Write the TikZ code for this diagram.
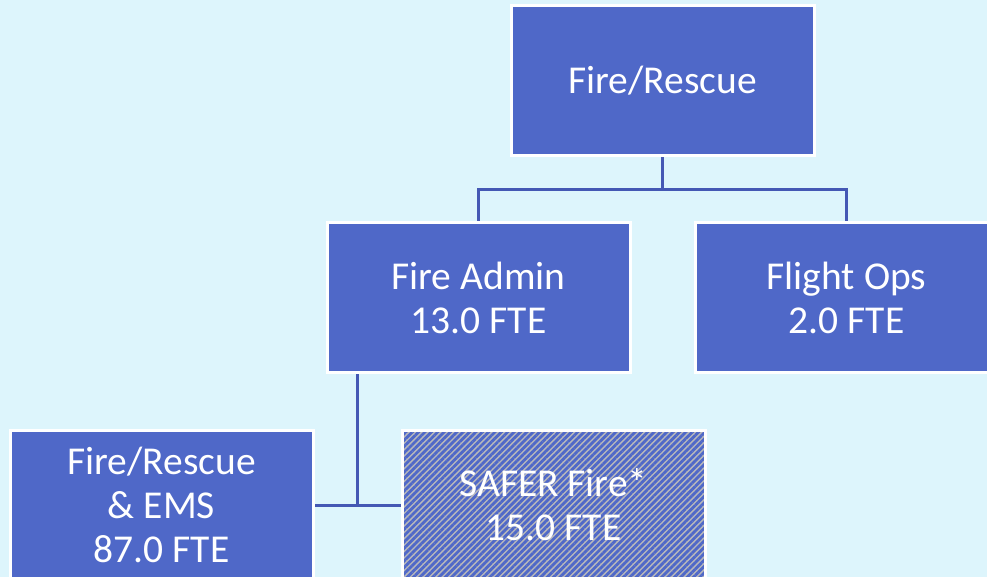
\documentclass[tikz,border=0pt]{standalone}
\usepackage{fontspec}
\setmainfont{Carlito}
\usetikzlibrary{patterns.meta}
\definecolor{bg}{HTML}{DDF5FC}
\definecolor{boxblue}{HTML}{4F68C8}
\definecolor{linkblue}{HTML}{4458B4}
\definecolor{hatchgray}{HTML}{B8B8BA}
\begin{document}
\begin{tikzpicture}[x=1pt,y=-1pt,
  unitbase/.style={rectangle, draw=white, line width=3pt,
    minimum width=303pt, minimum height=150pt, inner sep=0pt,
    align=center, text=white, font=\fontsize{39.5}{44}\selectfont},
  unit/.style={unitbase, fill=boxblue},
  grantunit/.style={unitbase, preaction={fill=hatchgray},
    pattern={Lines[angle=45,distance=4.5pt,line width=2.8pt]},
    pattern color=boxblue},
  link/.style={draw=linkblue, line width=3pt}]
\fill[bg] (0,0) rectangle (987,577);
\useasboundingbox (0,0) rectangle (987,577);
\clip (0,0) rectangle (987,577);

% org units
\node[unit] (fr) at (662.5,81) {Fire/Rescue};
\node[unit] (admin) at (478.5,297.5) {Fire Admin\\13.0 FTE};
\node[unit] (flight) at (846.5,297.5) {Flight Ops\\2.0 FTE};
\node[unit] (ems) at (161.5,505) {Fire/Rescue\\\& EMS\\87.0 FTE};
\node[grantunit] (safer) at (553.5,505) {SAFER Fire*\\15.0 FTE};

% reporting lines
\coordinate (split) at (662.5,190);
\draw[link] (fr.south) -- (split) -| (admin.north);
\draw[link] (split) -| (flight.north);
\coordinate (adminfoot) at ([xshift=-121.5pt]admin.south);
\draw[link] (adminfoot) |- (ems.east);
\draw[link] (adminfoot |- ems.east) -- (safer.west);
\end{tikzpicture}
\end{document}
